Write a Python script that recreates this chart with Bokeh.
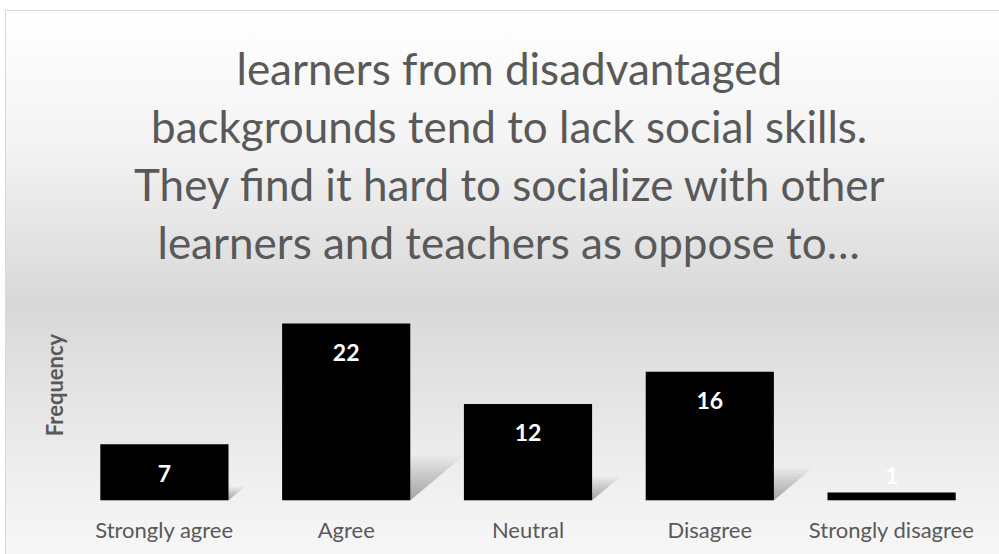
from bokeh.plotting import figure
from bokeh.models import ColumnDataSource, FactorRange, Range1d, FixedTicker, Title
from bokeh.core.properties import value
from bokeh.embed import file_html
from bokeh.resources import INLINE

categories = ["Strongly agree", "Agree", "Neutral", "Disagree", "Strongly disagree"]
frequency = [7, 22, 12, 16, 1]
title_lines = [
    "learners from disadvantaged",
    "backgrounds tend to lack social skills.",
    "They find it hard to socialize with other",
    "learners and teachers as oppose to\u2026",
]
y_label = "Frequency"

FONT = "Lato"
GRAY = "#595959"
W, H = 999, 554
LEFT, RIGHT, TOP, BOTTOM = 73, 17, 269, 54
Y_MAX = 28.7                             # keeps about 8 px per unit of frequency
BAR_W = 0.705
PX_PER_CAT = (W - LEFT - RIGHT) / len(categories)
TITLE_PX = 44
TITLE_CENTER = 508                       # page x of the title's centre line
TITLE_WIDTHS = [544, 715, 749, 702]      # rendered widths of the lines at TITLE_PX

label_y = [max(v, 6.7) for v in frequency]
src = ColumnDataSource(dict(cat=categories, freq=frequency,
                            txt=[str(v) for v in frequency], ly=label_y))

p = figure(width=W, height=H, x_range=FactorRange(*categories, range_padding=0),
           y_range=Range1d(0, Y_MAX), output_backend="svg", toolbar_location=None,
           min_border_left=LEFT, min_border_right=RIGHT, min_border_bottom=BOTTOM,
           min_border_top=TOP)
p.title = None

# each title line is its own Title so that every line is centred; the line closest
# to the plot is added first
for line, w in reversed(list(zip(title_lines, TITLE_WIDTHS))):
    p.add_layout(Title(text=line, align="left", offset=TITLE_CENTER - LEFT - w / 2,
                       text_font=FONT, text_font_size=f"{TITLE_PX}px",
                       text_font_style="normal", text_color=GRAY, standoff=4), "above")

# soft perspective shadows behind the bars (built from the bar values)
xs, ys = [], []
N_LAYERS = 14
for i, v in enumerate(frequency):
    xl = i + 0.5 - BAR_W / 2
    xr = i + 0.5 + BAR_W / 2
    for j in range(N_LAYERS):
        k = 1.0 - j / N_LAYERS
        dx = 2.4 * v * k / PX_PER_CAT
        dy = 0.25 * v * k
        xs.append([xl, xr, xr + dx, xl + dx])
        ys.append([0, 0, dy, dy])
p.patches(xs, ys, fill_color="black", fill_alpha=0.022, line_color=None)

p.vbar(x="cat", top="freq", width=BAR_W, source=src, fill_color="black", line_color=None)
p.text(x="cat", y="ly", text="txt", source=src, text_align="center", text_baseline="middle",
       y_offset=29, text_color="white", text_font=value(FONT), text_font_style="bold",
       text_font_size="23px")

p.background_fill_color = None
p.border_fill_color = None
p.outline_line_color = None
p.grid.visible = False

xaxis = p.below[0]
xaxis.axis_line_color = None
xaxis.major_tick_line_color = None
xaxis.minor_tick_line_color = None
xaxis.major_label_text_font = FONT
xaxis.major_label_text_font_size = "22px"
xaxis.major_label_text_color = GRAY
xaxis.major_label_standoff = 9

yaxis = p.left[0]
yaxis.ticker = FixedTicker(ticks=[])
yaxis.axis_line_color = None
yaxis.major_tick_line_color = None
yaxis.minor_tick_line_color = None
yaxis.axis_label = y_label
yaxis.axis_label_text_font = FONT
yaxis.axis_label_text_font_size = "22px"
yaxis.axis_label_text_font_style = "bold"
yaxis.axis_label_text_color = GRAY
yaxis.axis_label_standoff = 6

p.styles = {
    "background-color": "white",
    "background-image": "linear-gradient(#d9d9d9,#d9d9d9), linear-gradient(#d9d9d9,#d9d9d9), "
                        "linear-gradient(to bottom, #ffffff 0%, #f3f3f3 25%, #d8d8d8 54%, #ebebeb 80%, #f7f7f7 100%)",
    "background-size": "994px 1px, 1px 544px, 994px 544px",
    "background-position": "5px 10px, 5px 10px, 5px 10px",
    "background-repeat": "no-repeat",
}

open("out.html", "w").write(file_html(p, INLINE))
